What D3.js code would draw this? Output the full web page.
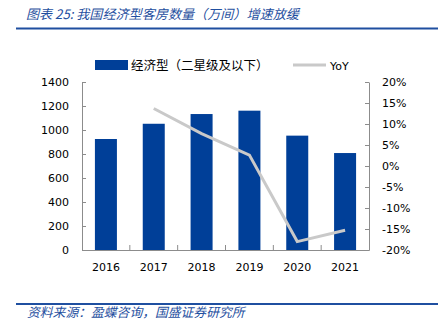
<!DOCTYPE html>
<html><head><meta charset="utf-8">
<script src="https://cdn.jsdelivr.net/npm/d3@7/dist/d3.min.js"></script>
<style>
html,body{margin:0;padding:0;background:#fff;}
svg{display:block;}
</style></head>
<body>
<svg id="c" width="447" height="322"></svg>
<script>
const years = ["2016","2017","2018","2019","2020","2021"];
const rooms = [925, 1052, 1133, 1161, 953, 808];
const yoyYears = ["2017","2018","2019","2020","2021"];
const yoy = [13.7, 7.7, 2.6, -18.0, -15.3];
const leftTicks = [0,200,400,600,800,1000,1200,1400];
const rightTicks = [-20,-15,-10,-5,0,5,10,15,20];
const titleText = "图表 25:  我国经济型客房数量（万间）增速放缓";
const sourceText = "资料来源：盈蝶咨询，国盛证券研究所";
const barName = "经济型（二星级及以下）";
const lineName = "YoY";

const svg = d3.select("#c");
const blue = "#003f98", gray = "#c9c9c9", axisCol = "#8c8c8c", hdr = "#1f4fa0";
const L = 82, R = 369, T = 82, B = 250;

const x = d3.scaleBand().domain(years).range([L, R]).paddingInner(0.54).paddingOuter(0.27);
const xb = d3.scaleBand().domain(years).range([L, R]);
const yL = d3.scaleLinear().domain([0, 1400]).range([B, T]);
const yR = d3.scaleLinear().domain([-20, 20]).range([B, T]);

// header
svg.append("text").attr("x", 26).attr("y", 19).text(titleText)
  .attr("font-family", "'Noto Sans CJK SC'").attr("font-size", 13.1)
  .attr("font-style", "italic").attr("fill", hdr);
svg.append("line").attr("x1", 16).attr("x2", 438).attr("y1", 28.5).attr("y2", 28.5)
  .attr("stroke", hdr).attr("stroke-width", 2);
svg.append("line").attr("x1", 16).attr("x2", 438).attr("y1", 304).attr("y2", 304)
  .attr("stroke", hdr).attr("stroke-width", 2);
svg.append("text").attr("x", 27).attr("y", 317).text(sourceText)
  .attr("font-family", "'Noto Sans CJK SC'").attr("font-size", 12.8)
  .attr("font-style", "italic").attr("fill", hdr);

// bars
svg.append("g").selectAll("rect").data(years).join("rect")
  .attr("x", (d) => x(d)).attr("width", x.bandwidth())
  .attr("y", (d, i) => yL(rooms[i])).attr("height", (d, i) => B - yL(rooms[i]))
  .attr("fill", blue);

// line
const line = d3.line().x((d, i) => xb(yoyYears[i]) + xb.bandwidth() / 2).y(d => yR(d));
svg.append("path").datum(yoy).attr("d", line).attr("fill", "none")
  .attr("stroke", gray).attr("stroke-width", 3);

// axes
const fontAx = "'DejaVu Sans', Verdana, sans-serif";
const gL = svg.append("g").attr("transform", `translate(${L},0)`)
  .call(d3.axisLeft(yL).tickValues(leftTicks).tickSizeInner(-4).tickSizeOuter(0).tickPadding(13)
    .tickFormat(d3.format("d")));
const gR = svg.append("g").attr("transform", `translate(${R},0)`)
  .call(d3.axisRight(yR).tickValues(rightTicks).tickSizeInner(-4).tickSizeOuter(0).tickPadding(13)
    .tickFormat(d => d + "%"));
const gB = svg.append("g").attr("transform", `translate(0,${B})`)
  .call(d3.axisBottom(xb).tickSize(0).tickPadding(13));
// category separators
svg.append("g").selectAll("line").data(years.slice(1)).join("line")
  .attr("x1", d => xb(d)).attr("x2", d => xb(d)).attr("y1", B).attr("y2", B - 5)
  .attr("stroke", axisCol);
[gL, gR, gB].forEach(g => {
  g.selectAll("path.domain").attr("stroke", axisCol);
  g.selectAll(".tick line").attr("stroke", axisCol);
  g.selectAll("text").attr("font-family", fontAx).attr("font-size", 11).attr("fill", "#000");
});

// legend
svg.append("rect").attr("x", 95).attr("y", 60).attr("width", 33).attr("height", 10).attr("fill", blue);
svg.append("text").attr("x", 131).attr("y", 69.5).text(barName)
  .attr("font-family", "'Noto Sans CJK SC'").attr("font-size", 12.5).attr("fill", "#000");
svg.append("line").attr("x1", 293).attr("x2", 326).attr("y1", 65).attr("y2", 65)
  .attr("stroke", gray).attr("stroke-width", 3);
svg.append("text").attr("x", 330).attr("y", 69.5).text(lineName)
  .attr("font-family", fontAx).attr("font-size", 11).attr("fill", "#000");
</script>
</body></html>
